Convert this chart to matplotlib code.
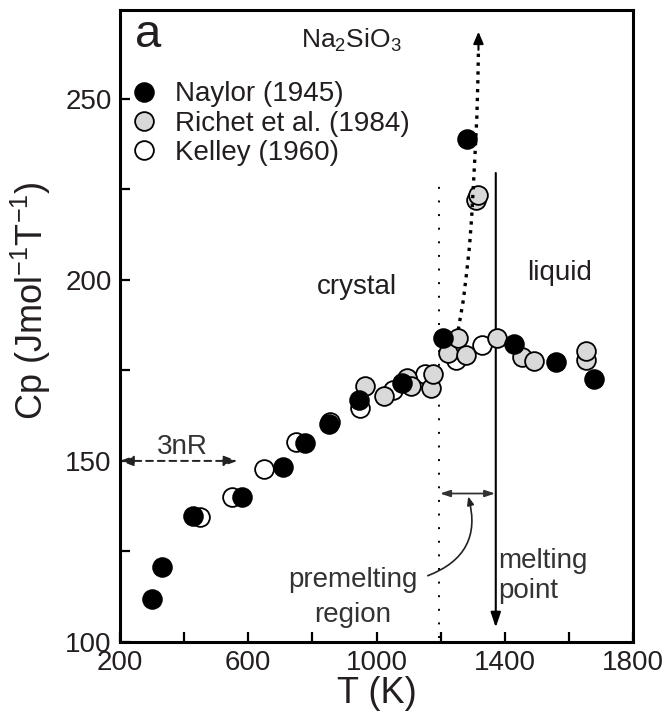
import matplotlib
matplotlib.use("Agg")
import matplotlib.pyplot as plt

plt.rcParams['font.family'] = ['Liberation Sans', 'DejaVu Sans']
plt.rcParams['mathtext.fontset'] = 'custom'
plt.rcParams['mathtext.rm'] = 'Liberation Sans'
plt.rcParams['mathtext.it'] = 'Liberation Sans:italic'
plt.rcParams['axes.unicode_minus'] = False

# ---- data ----
naylor_T  = [299, 330, 427, 580, 707, 777, 852, 946, 1079, 1206, 1281, 1429, 1560, 1679]
naylor_Cp = [112.0, 120.7, 134.9, 139.9, 148.4, 154.9, 160.3, 166.8, 171.5, 184.0, 239.0, 182.2, 177.2, 172.7]

richet_T  = [964, 1023, 1094, 1108, 1169, 1175, 1224, 1255, 1279, 1310, 1318, 1375, 1453, 1491, 1653, 1653]
richet_Cp = [170.8, 168.0, 172.9, 170.6, 170.1, 174.0, 179.8, 184.0, 179.3, 222.0, 223.5, 183.8, 178.8, 177.7, 177.9, 180.4]

kelley_T  = [450, 548, 649, 748, 856, 949, 1053, 1089, 1151, 1248, 1328]
kelley_Cp = [134.4, 139.9, 147.7, 155.2, 160.8, 164.5, 169.7, 172.0, 174.0, 178.0, 181.9]

# dotted trend towards the divergence near the melting point
trend_T  = [1255, 1271, 1281, 1290, 1297, 1302, 1307, 1313, 1316, 1318]
trend_Cp = [186.2, 194.5, 201.9, 209.2, 217.5, 225.8, 234.1, 245.1, 254.3, 263.5]
trend_tip = (1318, 268.5)

T_premelt = 1195      # onset of premelting
T_melt    = 1372      # melting point
Cp_3nR    = 150       # Dulong-Petit limit

TXT = '#231f20'

fig = plt.figure(figsize=(6.65, 7.26), dpi=100)
ax = fig.add_axes([120/665, 84/726, 513/665, 632/726])

mk = dict(linestyle='none', marker='o', markersize=13.5, markeredgewidth=1.3,
          markeredgecolor='black')
ax.plot(kelley_T, kelley_Cp, markerfacecolor='white', label='Kelley (1960)', zorder=3, **mk)
ax.plot(richet_T, richet_Cp, markerfacecolor='#d9d9d9', label='Richet et al. (1984)', zorder=4, **mk)
ax.plot(naylor_T, naylor_Cp, markerfacecolor='black', label='Naylor (1945)', zorder=5, **mk)

# dotted divergence curve with arrow
ax.plot(trend_T, trend_Cp, color='black', linestyle=':', linewidth=2.4, zorder=6)
ax.annotate('', xy=trend_tip, xytext=(trend_T[-1], trend_Cp[-1]),
            arrowprops=dict(arrowstyle='-|>,head_length=0.7,head_width=0.3',
                            color='black', lw=1.5, shrinkA=0, shrinkB=0), zorder=6)

# premelting onset
ax.plot([T_premelt, T_premelt], [101, 227], color='black', linestyle=(0, (1, 6)),
        linewidth=1.4, zorder=2)

# melting point arrow
ax.annotate('', xy=(T_melt, 104), xytext=(T_melt, 229.5),
            arrowprops=dict(arrowstyle='-|>,head_length=0.9,head_width=0.3',
                            color='black', lw=1.5, shrinkA=0, shrinkB=0), zorder=2)

# premelting region width
ax.annotate('', xy=(T_premelt + 3, 141), xytext=(T_melt - 2, 141),
            arrowprops=dict(arrowstyle='<|-|>,head_length=0.6,head_width=0.2',
                            color='#333333', lw=1.3, shrinkA=0, shrinkB=0))
ax.annotate('', xy=(1286, 140.2), xytext=(1160, 118.3),
            arrowprops=dict(arrowstyle='-|>,head_length=0.5,head_width=0.2',
                            color='#222222', lw=1.2, shrinkA=0, shrinkB=0,
                            connectionstyle='arc3,rad=0.45'))

# 3nR arrow
ax.annotate('', xy=(200, Cp_3nR), xytext=(566, Cp_3nR),
            arrowprops=dict(arrowstyle='<|-|>,head_length=0.8,head_width=0.3',
                            color='#222222', lw=1.4, linestyle=(0, (3.5, 2.5)),
                            shrinkA=0, shrinkB=0))
ax.text(395, 153.8, '3nR', fontsize=20, color='#333333', ha='center', va='center')

# labels inside the plot
ax.text(287, 267.5, 'a', fontsize=34, color=TXT, ha='center', va='center')
ax.text(923, 266, 'Na$_2$SiO$_3$', fontsize=19, color=TXT, ha='center', va='center')
ax.text(938, 198, 'crystal', fontsize=20, color=TXT, ha='center', va='center')
ax.text(1572, 202, 'liquid', fontsize=20, color=TXT, ha='center', va='center')
ax.text(925, 117, 'premelting', fontsize=20, color='#333333', ha='center', va='center')
ax.text(925, 107.5, 'region', fontsize=20, color='#333333', ha='center', va='center')
ax.text(1380, 122.5, 'melting', fontsize=20, color='#333333', ha='left', va='center')
ax.text(1380, 114.2, 'point', fontsize=20, color='#333333', ha='left', va='center')

ax.legend(loc='upper left', bbox_to_anchor=(0.02, 0.887), frameon=False, fontsize=20,
          borderpad=0, borderaxespad=0, handlelength=1.0, handletextpad=0.6,
          labelspacing=0.12, labelcolor=TXT, reverse=True)

ax.set_xlim(200, 1800)
ax.set_ylim(100, 274.5)
ax.set_xticks(range(200, 1801, 200))
ax.set_xticklabels(['200', '', '600', '', '1000', '', '1400', '', '1800'])
ax.set_yticks(range(100, 275, 25))
ax.set_yticklabels(['100', '', '150', '', '200', '', '250'])
ax.tick_params(direction='in', length=7, width=1.6, labelsize=20, pad=6, colors='black',
               labelcolor=TXT)
for s in ax.spines.values():
    s.set_linewidth(2.2)

ax.set_xlabel('T (K)', fontsize=26, color=TXT, labelpad=0)
ax.set_ylabel('Cp (Jmol$^{-1}$T$^{-1}$)', fontsize=26, color=TXT)
ax.yaxis.set_label_coords(-0.13, 0.54)

fig.savefig('out.png', dpi=100)
